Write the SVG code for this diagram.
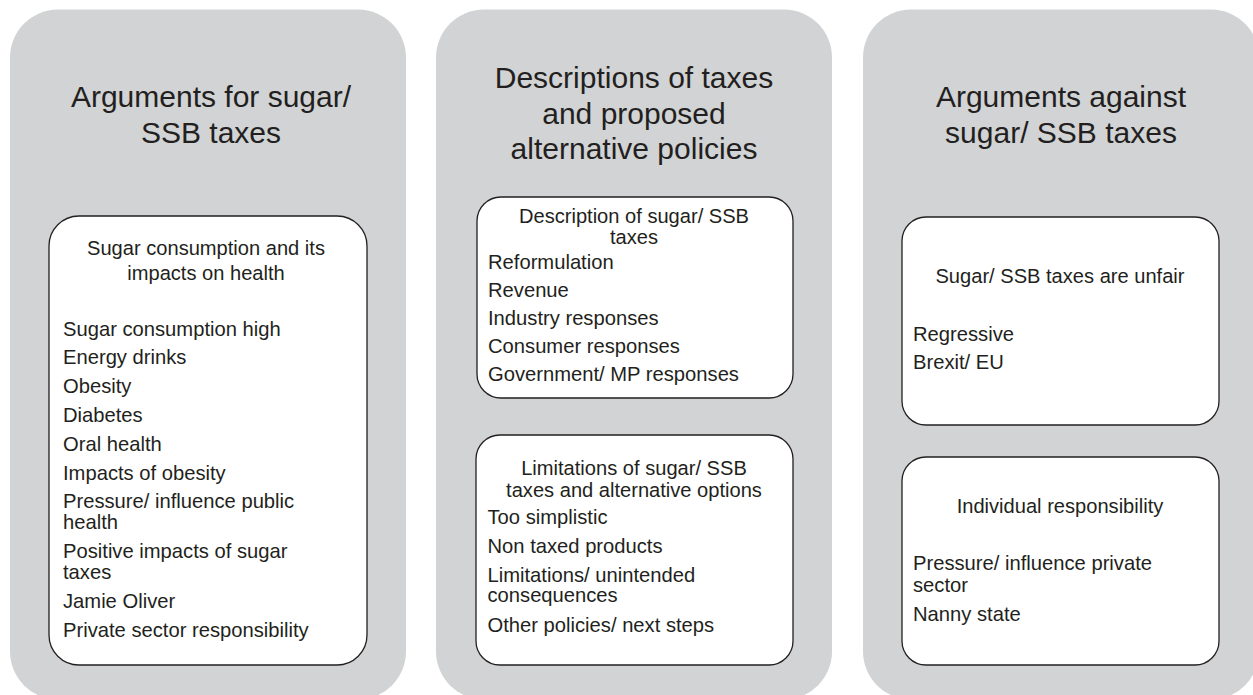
<svg xmlns="http://www.w3.org/2000/svg" width="1253" height="695" viewBox="0 0 1253 695">
<style>
.panel{fill:#d1d3d4;stroke:none}
.box{fill:#ffffff;stroke:#231f20;stroke-width:1.3}
text{font-family:"Liberation Sans",Arial,Helvetica,sans-serif;fill:#231f20}
.title{font-size:30px;text-anchor:middle}
.sub{font-size:20.1px;text-anchor:middle}
.item{font-size:20.2px}
</style>
<rect width="1253" height="695" fill="#ffffff"/>
<g id="panel-for">
<rect class="panel" x="10" y="9.5" width="396" height="690" rx="48"/>
<text class="title" x="211" y="107">Arguments for sugar/</text>
<text class="title" x="211" y="142.5">SSB taxes</text>
</g>
<g id="panel-descriptions">
<rect class="panel" x="436" y="9.5" width="396" height="690" rx="48"/>
<text class="title" x="634" y="88.3">Descriptions of taxes</text>
<text class="title" x="634" y="124">and proposed</text>
<text class="title" x="634" y="159.3">alternative policies</text>
</g>
<g id="panel-against">
<rect class="panel" x="863" y="9.5" width="396" height="690" rx="48"/>
<text class="title" x="1061" y="107">Arguments against</text>
<text class="title" x="1061" y="142.5">sugar/ SSB taxes</text>
</g>
<g id="box-health">
<rect class="box" x="49" y="216" width="318" height="449" rx="30"/>
<text class="sub" x="206" y="255">Sugar consumption and its</text>
<text class="sub" x="206" y="280">impacts on health</text>
<text class="item" x="63" y="335.5">Sugar consumption high</text>
<text class="item" x="63" y="364.3">Energy drinks</text>
<text class="item" x="63" y="393">Obesity</text>
<text class="item" x="63" y="421.7">Diabetes</text>
<text class="item" x="63" y="450.7">Oral health</text>
<text class="item" x="63" y="479.5">Impacts of obesity</text>
<text class="item" x="63" y="508.3">Pressure/ influence public</text>
<text class="item" x="63" y="529.3">health</text>
<text class="item" x="63" y="558.3">Positive impacts of sugar</text>
<text class="item" x="63" y="579">taxes</text>
<text class="item" x="63" y="608.3">Jamie Oliver</text>
<text class="item" x="63" y="637.3">Private sector responsibility</text>
</g>
<g id="box-description">
<rect class="box" x="477" y="197" width="316" height="201" rx="24"/>
<text class="sub" x="634" y="222.5">Description of sugar/ SSB</text>
<text class="sub" x="634" y="243.5">taxes</text>
<text class="item" x="488" y="269">Reformulation</text>
<text class="item" x="488" y="297">Revenue</text>
<text class="item" x="488" y="325">Industry responses</text>
<text class="item" x="488" y="353">Consumer responses</text>
<text class="item" x="488" y="381">Government/ MP responses</text>
</g>
<g id="box-limitations">
<rect class="box" x="476" y="435" width="317" height="230" rx="24"/>
<text class="sub" x="634" y="474.5">Limitations of sugar/ SSB</text>
<text class="sub" x="634" y="496.5">taxes and alternative options</text>
<text class="item" x="487.5" y="524">Too simplistic</text>
<text class="item" x="487.5" y="553">Non taxed products</text>
<text class="item" x="487.5" y="581.5">Limitations/ unintended</text>
<text class="item" x="487.5" y="602">consequences</text>
<text class="item" x="487.5" y="631.5">Other policies/ next steps</text>
</g>
<g id="box-unfair">
<rect class="box" x="902" y="217" width="317" height="208" rx="24"/>
<text class="sub" x="1060" y="283">Sugar/ SSB taxes are unfair</text>
<text class="item" x="913" y="341">Regressive</text>
<text class="item" x="913" y="369.3">Brexit/ EU</text>
</g>
<g id="box-individual">
<rect class="box" x="902" y="457" width="317" height="208" rx="24"/>
<text class="sub" x="1060" y="512.7">Individual responsibility</text>
<text class="item" x="913" y="570">Pressure/ influence private</text>
<text class="item" x="913" y="591.7">sector</text>
<text class="item" x="913" y="621">Nanny state</text>
</g>
<g id="connectors"></g>
</svg>
